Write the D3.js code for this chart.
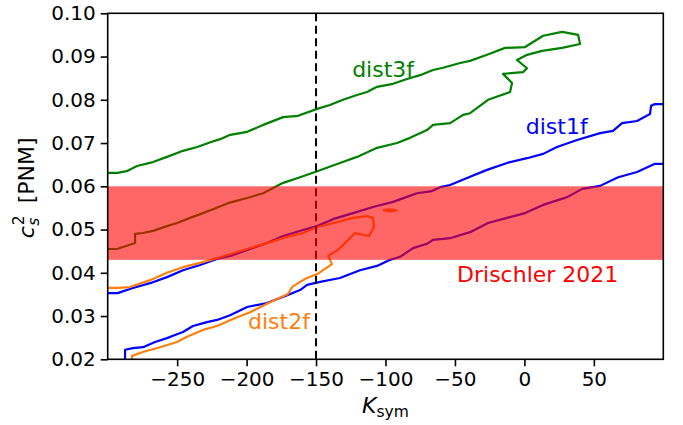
<!DOCTYPE html>
<html>
<head>
<meta charset="utf-8">
<script src="https://cdn.jsdelivr.net/npm/d3@7"></script>
<style>
  html, body { margin: 0; padding: 0; background: #fff; }
  svg { display: block; }
  text { font-family: "DejaVu Sans", sans-serif; }
</style>
</head>
<body>
<svg id="chart" width="683" height="425"></svg>
<script>
// ---------------- data ----------------
const xDomain = [-300, 100];
const yDomain = [0.02, 0.10];
const xTicks = [-250, -200, -150, -100, -50, 0, 50];
const yTicks = [0.02, 0.03, 0.04, 0.05, 0.06, 0.07, 0.08, 0.09, 0.10];

// dist3f contour (green): upper edge -> tip -> lower edge back to left
const dist3f = [
  [-300,0.0631],[-292.9,0.0631],[-286.4,0.0635],[-278.9,0.0647],[-267.4,0.0656],[-257.3,0.0668],
  [-245.8,0.0682],[-235.5,0.0691],[-226.1,0.0702],[-219.0,0.0709],[-211.8,0.0719],[-199.6,0.0726],
  [-188.1,0.0742],[-173.7,0.0760],[-162.9,0.0763],[-149.2,0.0779],[-140.0,0.0788],[-130.6,0.0800],
  [-120.5,0.0811],[-113.3,0.0818],[-106.1,0.0830],[-94.6,0.0837],[-84.5,0.0848],[-75.1,0.0857],
  [-65.8,0.0869],[-58.6,0.0874],[-46.3,0.0885],[-39.1,0.0890],[-26.9,0.0904],[-13.9,0.0920],
  [0.5,0.0922],[13.5,0.0948],[27.1,0.0957],[38.7,0.0950],[40.1,0.0929],
  [27.1,0.0920],[12.7,0.0913],[1.9,0.0904],[-5.3,0.0892],[1.9,0.0873],[-1.0,0.0864],[-15.4,0.0860],
  [-8.9,0.0839],[-10.3,0.0818],[-26.2,0.0800],[-39.1,0.0769],[-44.1,0.0765],[-53.5,0.0746],
  [-65.8,0.0742],[-70.1,0.0730],[-82.3,0.0712],[-91.7,0.0700],[-106.1,0.0689],[-120.5,0.0668],
  [-132.8,0.0654],[-149.2,0.0635],[-161.5,0.0621],[-173.7,0.0608],[-180.9,0.0596],[-188.1,0.0584],
  [-199.6,0.0573],[-213.4,0.0561],[-224.2,0.0547],[-231.4,0.0538],[-240.7,0.0527],[-250.1,0.0515],
  [-257.3,0.0508],[-267.4,0.0497],[-274.6,0.0492],[-280.3,0.0490],[-280.3,0.0469],[-293.3,0.0455],
  [-300,0.0455]
];

// dist1f contour (blue): two edges
const dist1fUpper = [
  [-300,0.0353],[-292.9,0.0353],[-281.8,0.0365],[-269.5,0.0376],[-257.3,0.0390],[-245.8,0.0406],
  [-233.5,0.0418],[-221.3,0.0432],[-209.8,0.0441],[-199.6,0.0453],[-185.3,0.0469],[-173.7,0.0485],
  [-159.4,0.0499],[-149.2,0.0508],[-137.8,0.0524],[-123.4,0.0538],[-109.0,0.0552],[-94.6,0.0564],
  [-77.3,0.0584],[-66.5,0.0589],[-60.7,0.0598],[-53.5,0.0603],[-41.3,0.0619],[-26.9,0.0638],
  [-12.5,0.0654],[1.9,0.0665],[13.5,0.0675],[23.5,0.0691],[37.9,0.0707],[54.5,0.0723],
  [63.8,0.0728],[70.3,0.0746],[81.1,0.0751],[90.4,0.0767],[91.2,0.0786],[94.0,0.0790],[100,0.0790]
];
const dist1fLower = [
  [-287.5,0.0200],[-287.5,0.0222],[-281.8,0.0226],[-274.6,0.0228],[-265.9,0.0240],[-257.3,0.0249],
  [-251.5,0.0256],[-245.8,0.0263],[-238.6,0.0277],[-228.5,0.0286],[-221.3,0.0291],[-211.9,0.0302],
  [-199.6,0.0321],[-185.3,0.0330],[-170.2,0.0349],[-161.5,0.0360],[-156.5,0.0372],[-147.1,0.0379],
  [-132.8,0.0388],[-118.4,0.0406],[-106.1,0.0416],[-96.7,0.0430],[-89.5,0.0437],[-80.2,0.0457],
  [-70.1,0.0467],[-65.8,0.0476],[-53.5,0.0480],[-39.1,0.0494],[-26.2,0.0515],[-12.5,0.0527],
  [0.5,0.0538],[13.5,0.0557],[30.8,0.0575],[41.6,0.0594],[54.5,0.0601],[67.5,0.0621],
  [81.1,0.0633],[94.0,0.0652],[100,0.0652]
];

// dist2f contour (orange): upper edge -> loop -> lower edge
const dist2f = [
  [-300,0.0365],[-292.9,0.0365],[-284.0,0.0367],[-269.5,0.0383],[-257.3,0.0400],[-245.8,0.0413],
  [-233.5,0.0423],[-221.3,0.0434],[-211.9,0.0443],[-199.6,0.0455],[-183.1,0.0471],[-170.9,0.0483],
  [-159.4,0.0492],[-149.2,0.0506],[-134.9,0.0517],[-123.4,0.0527],[-113.3,0.0531],[-109.0,0.0527],
  [-108.3,0.0506],[-111.9,0.0485],[-122.0,0.0492],[-129.1,0.0469],[-134.2,0.0453],[-141.3,0.0439],
  [-138.5,0.0420],[-149.2,0.0397],[-156.5,0.0388],[-161.5,0.0379],[-167.3,0.0367],[-170.2,0.0351],
  [-183.1,0.0332],[-197.5,0.0309],[-209.8,0.0293],[-221.3,0.0277],[-231.4,0.0268],[-242.9,0.0252],
  [-250.1,0.0240],[-262.3,0.0228],[-274.6,0.0217],[-282.5,0.0208],[-282.5,0.0200]
];
const dist2fIsland = [[-102,0.0545],[-97,0.0547],[-92,0.0544],[-97,0.0542],[-102,0.0545]];

const bandRange = [0.043, 0.060];
const refK = -150;

const labels = [
  {text: "dist3f", k: -124, c: 0.0853, color: "green"},
  {text: "dist1f", k: 1, c: 0.0721, color: "blue"},
  {text: "dist2f", k: -199, c: 0.0270, color: "#ff7f0e"},
  {text: "Drischler 2021", k: -48.5, c: 0.0379, color: "red"}
];

// ---------------- drawing ----------------
const svg = d3.select("#chart");
const L = 107.7, R = 663.3, T = 13.3, B = 359.3;
const x = d3.scaleLinear().domain(xDomain).range([L, R]);
const y = d3.scaleLinear().domain(yDomain).range([B, T]);

svg.append("defs").append("clipPath").attr("id", "clip")
  .append("rect").attr("x", L).attr("y", T).attr("width", R - L).attr("height", B - T);

const plot = svg.append("g").attr("clip-path", "url(#clip)");
const line = d3.line().x(d => x(d[0])).y(d => y(d[1]));

const curves = [
  {d: dist3f, color: "green"},
  {d: dist1fUpper, color: "blue"},
  {d: dist1fLower, color: "blue"},
  {d: dist2f, color: "#ff7f0e"},
  {d: dist2fIsland, color: "#ff7f0e"}
];
curves.forEach(cv => {
  plot.append("path").attr("d", line(cv.d)).attr("fill", "none")
    .attr("stroke", cv.color).attr("stroke-width", 2.2)
    .attr("stroke-linejoin", "round").attr("stroke-linecap", "butt");
});

// dashed reference line
plot.append("line").attr("x1", x(refK)).attr("x2", x(refK)).attr("y1", T).attr("y2", B)
  .attr("stroke", "black").attr("stroke-width", 2).attr("stroke-dasharray", "8,4.5");

// band
plot.append("rect").attr("x", L).attr("width", R - L)
  .attr("y", y(bandRange[1])).attr("height", y(bandRange[0]) - y(bandRange[1]))
  .attr("fill", "red").attr("fill-opacity", 0.6);

// annotations
labels.forEach(l => {
  svg.append("text").attr("x", x(l.k)).attr("y", y(l.c)).text(l.text)
    .attr("fill", l.color).attr("font-size", 22);
});

// axes
const fmtX = d => d < 0 ? "\u2212" + Math.abs(d) : String(d);
const gx = svg.append("g").attr("transform", `translate(0,${B})`)
  .call(d3.axisBottom(x).tickValues(xTicks).tickFormat(fmtX).tickSize(7).tickPadding(6));
const gy = svg.append("g").attr("transform", `translate(${L},0)`)
  .call(d3.axisLeft(y).tickValues(yTicks).tickFormat(d3.format(".2f")).tickSize(7).tickPadding(5));
[gx, gy].forEach(g => {
  g.select(".domain").remove();
  g.selectAll(".tick line").attr("stroke", "black").attr("stroke-width", 1.6);
  g.selectAll(".tick text").attr("fill", "black").attr("font-size", 20)
    .attr("font-family", "DejaVu Sans, sans-serif");
});

// frame
svg.append("rect").attr("x", L).attr("y", T).attr("width", R - L).attr("height", B - T)
  .attr("fill", "none").attr("stroke", "black").attr("stroke-width", 1.6);

// x label
const xl = svg.append("text").attr("x", (L + R) / 2).attr("y", 413)
  .attr("text-anchor", "middle").attr("font-size", 22).attr("fill", "black");
xl.append("tspan").attr("font-style", "italic").text("K");
xl.append("tspan").attr("font-size", 15.5).attr("dy", 4).text("sym");

// y label
const yg = svg.append("g").attr("transform", `translate(34,${(T + B) / 2}) rotate(-90)`);
yg.append("text").attr("x", -52).attr("y", 0).attr("font-size", 22).attr("font-style", "italic").text("c");
yg.append("text").attr("x", -39).attr("y", -10).attr("font-size", 15.5).text("2");
yg.append("text").attr("x", -39.5).attr("y", 5).attr("font-size", 15.5).attr("font-style", "italic").text("s");
yg.append("text").attr("x", -17).attr("y", 0).attr("font-size", 22).text("[PNM]");
</script>
</body>
</html>
